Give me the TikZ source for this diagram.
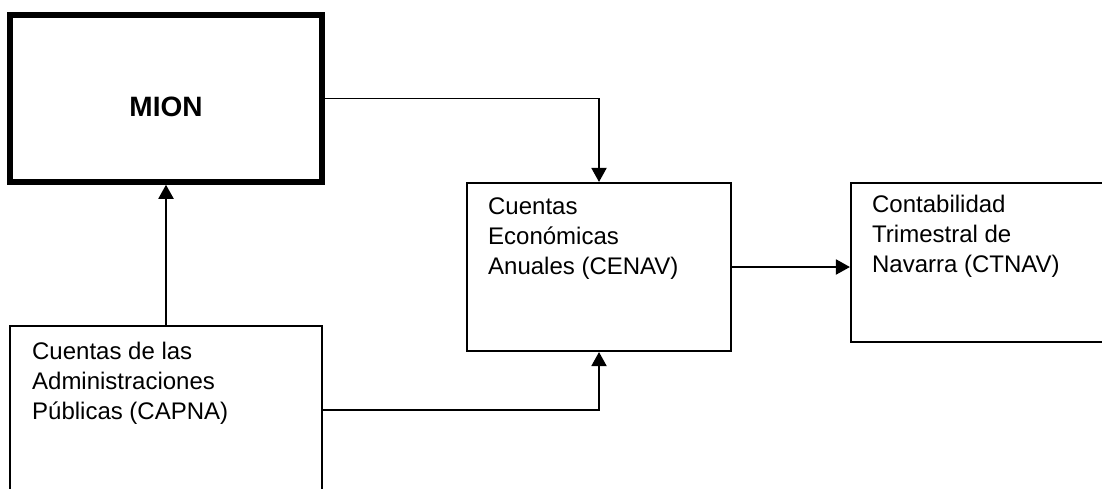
\documentclass[tikz,border=0pt]{standalone}
\usepackage{fontspec}
\setmainfont{Liberation Sans}
\usetikzlibrary{arrows.meta}

\begin{document}
\begin{tikzpicture}[x=1pt,y=-1pt,
  box/.style={draw,line width=2.1pt,inner sep=0pt},
  boldbox/.style={draw,line width=5.5pt,inner sep=0pt},
  txt/.style={anchor=north west,align=left,inner sep=0pt,font=\fontsize{24}{30}\selectfont},
  link/.style={line width=1.9pt,-{Triangle[width=15pt,length=14pt]}}]
% ---- page of 1102 x 488, y runs downwards
\clip (0,0) rectangle (1102,488);
% ---- boxes
\node[boldbox,minimum width=312pt,minimum height=167pt] (mion) at (166,98.5) {};
\node[box,minimum width=264pt,minimum height=168pt] (cenav) at (599,267) {};
\node[box,minimum width=264pt,minimum height=159pt] (ctnav) at (983,262.5) {};
\node[box,minimum width=312pt,minimum height=168pt] (capna) at (166,410) {};
% ---- texts
\node[font=\bfseries\fontsize{28}{34}\selectfont,inner sep=0pt] (mionlbl)
  at ([yshift=-8pt]mion.center) {MION};
\node[txt] (cenavlbl) at ([xshift=22pt,yshift=-16pt]cenav.north west)
  {Cuentas\\Económicas\\Anuales (CENAV)};
\node[txt] (ctnavlbl) at ([xshift=22pt,yshift=-13pt]ctnav.north west)
  {Contabilidad\\Trimestral de\\Navarra (CTNAV)};
\node[txt] (capnalbl) at ([xshift=23pt,yshift=-17pt]capna.north west)
  {Cuentas de las\\Administraciones\\Públicas (CAPNA)};
% ---- connectors
\draw[link] (mion.east) -| (cenav.north);
\draw[link] (capna.north) -- (mion.south);
\draw[link] (capna.east) -| (cenav.south);
\draw[link] (cenav.east) -- (cenav.east -| ctnav.west);
\end{tikzpicture}
\end{document}
